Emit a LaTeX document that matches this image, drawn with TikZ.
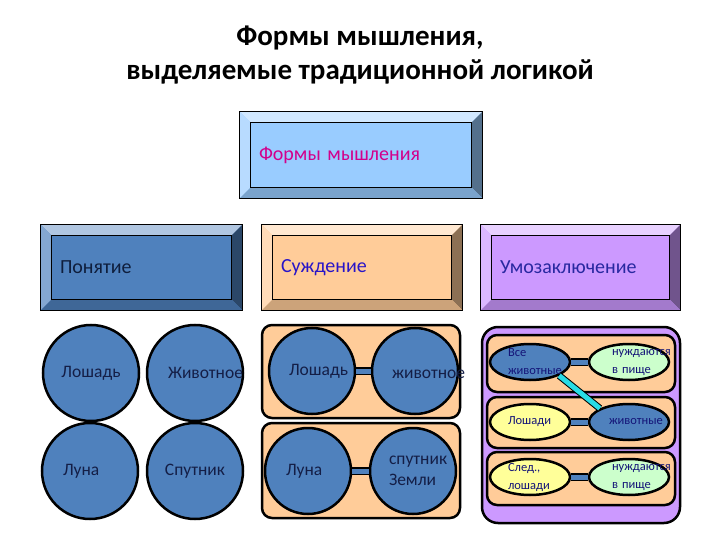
\documentclass[tikz,border=0pt]{standalone}
\usepackage{fontspec}
\setmainfont{Carlito}
\usepackage{xcolor}
\usepackage{tikz}
\usetikzlibrary{shapes.geometric,positioning}

\definecolor{formblue}{RGB}{153,204,255}
\definecolor{steel}{RGB}{79,129,189}
\definecolor{peach}{RGB}{255,204,153}
\definecolor{lilac}{RGB}{204,153,255}
\definecolor{lemon}{RGB}{255,255,153}
\definecolor{mint}{RGB}{204,255,204}
\definecolor{linkcyan}{RGB}{40,220,230}
\definecolor{pinktext}{RGB}{210,0,140}
\definecolor{conctext}{RGB}{15,30,60}
\definecolor{judgtext}{RGB}{40,20,200}
\definecolor{infertext}{RGB}{40,40,160}
\definecolor{circtext}{RGB}{20,30,70}
\definecolor{navytext}{RGB}{20,20,120}

\begin{document}
\begin{tikzpicture}[x=1pt,y=-1pt]
		\tikzstyle{bevel}=[rectangle,inner xsep=19pt,align=left,minimum height=85pt,font=\fontsize{20}{24}\selectfont]
		\tikzstyle{blob}=[circle,draw=black,line width=2.5pt,fill=steel,inner sep=0pt,text=circtext,font=\fontsize{17.5}{21}\selectfont,align=left]
		\tikzstyle{pod}=[ellipse,draw=black,line width=2.5pt,minimum width=80pt,minimum height=36pt,inner sep=-9pt,text=navytext,font=\fontsize{12.5}{18}\selectfont,align=left]
		\tikzstyle{frame}=[rectangle,rounded corners=10pt,draw=black,line width=2.5pt,fill=peach]
		\tikzstyle{bar}=[draw=black,line width=1.2pt,double=steel,double distance=5pt]
		
		\useasboundingbox (0,0) rectangle (720,540);
		
		\node[font=\bfseries\fontsize{29}{34}\selectfont,align=center] (title) at (360,55) {Формы мышления,\\выделяемые традиционной логикой};
		
		\node[bevel,fill=formblue,text=pinktext,text width=204pt,minimum height=86pt] (forms)   at (361,155)   {Формы мышления};
		\node[bevel,fill=steel,text=conctext,text width=163pt]                        (concept) at (141.5,267.5) {Понятие};
		\node[bevel,fill=peach,text=judgtext,text width=162pt]                        (judg)    at (362,267.5) {Суждение};
		\node[bevel,fill=lilac,text=infertext,text width=161pt]                       (infer)   at (580.5,267.5) {Умозаключение};
		
		\foreach \b/\c in {forms/formblue,concept/steel,judg/peach,infer/lilac}{
			\fill[\c!45!white] (\b.north west) -- (\b.north east) -- ([shift={(-11,11)}]\b.north east) -- ([shift={(11,11)}]\b.north west) -- cycle;
			\fill[\c!70!white] (\b.north west) -- ([shift={(11,11)}]\b.north west) -- ([shift={(11,-11)}]\b.south west) -- (\b.south west) -- cycle;
			\fill[\c!55!black] (\b.north east) -- ([shift={(-11,11)}]\b.north east) -- ([shift={(-11,-11)}]\b.south east) -- (\b.south east) -- cycle;
			\fill[\c!80!black] (\b.south west) -- ([shift={(11,-11)}]\b.south west) -- ([shift={(-11,-11)}]\b.south east) -- (\b.south east) -- cycle;
			\draw[line width=1pt] (\b.north west) rectangle (\b.south east);
			\draw[line width=0.8pt] ([shift={(11,11)}]\b.north west) rectangle ([shift={(-11,-11)}]\b.south east);
		}
		
		% concept
		\node[blob,minimum size=96pt]                (horse)  at (91,373)  {Лошадь};
		\node[blob,minimum size=96pt,text width=54pt] (animal) at (195,373) {Животное};
		\node[blob,minimum size=96pt,text width=54pt] (moon)   at (90,471)  {Луна};
		\node[blob,minimum size=96pt]                (sat)    at (195,471) {Спутник};
		
		% judgement
		\node[frame,minimum width=198pt,minimum height=93pt] (jrow1) at (361,371.5) {};
		\node[frame,minimum width=198pt,minimum height=95pt] (jrow2) at (361,470.5) {};
		\node[blob,minimum size=86pt,text width=46pt] (jhorse)  at (312,371) {Лошадь\\[4pt]};
		\node[blob,minimum size=86pt,text width=46pt] (janimal) at (415,371) {\\[-6pt]животное};
		\node[blob,minimum size=86pt,text width=44pt] (jmoon)   at (308,471) {Луна};
		\node[blob,minimum size=86pt,text width=48pt] (jsat)    at (413,471) {спутник\\Земли};
		\draw[bar] (jhorse) -- (janimal);
		\draw[bar] (jmoon) -- (jsat);
		
		% inference
		\node[frame,fill=lilac,rounded corners=16pt,minimum width=198pt,minimum height=196pt] (ibox) at (581,425) {};
		\node[frame,minimum width=188pt,minimum height=57pt] (irow1) at (581,363.5) {};
		\node[frame,minimum width=188pt,minimum height=51pt] (irow2) at (581,422.5) {};
		\node[frame,minimum width=188pt,minimum height=53pt] (irow3) at (581,478.5) {};
		\node[pod,fill=steel,text width=44pt] (allanim) at (530,362) {Все\\животные};
		\node[pod,fill=mint,text width=34pt]  (food1)   at (629,362) {нуждаются\\в~пище};
		\node[pod,fill=lemon,text width=44pt] (horses)  at (530,422) {Лошади};
		\node[pod,fill=steel,text width=40pt] (animals) at (629,422) {животные};
		\node[pod,fill=lemon,text width=44pt] (sohorse) at (530,477) {След.,\\лошади};
		\node[pod,fill=mint,text width=34pt]  (food2)   at (629,477) {нуждаются\\в~пище};
		\draw[bar] (allanim) -- (food1);
		\draw[bar] (horses) -- (animals);
		\draw[bar] (sohorse) -- (food2);
		\draw[line width=1pt,double=linkcyan,double distance=5pt] (allanim.south east) -- (animals.north west);
		
\end{tikzpicture}
\end{document}
